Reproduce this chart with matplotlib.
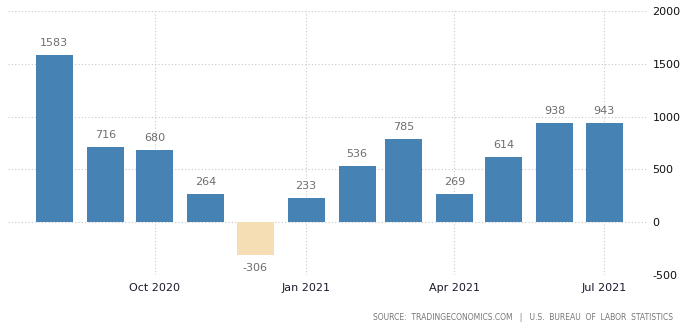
import numpy as np
import pandas as pd
import matplotlib
matplotlib.use("Agg")
import matplotlib.pyplot as plt

plt.rcParams["axes.unicode_minus"] = False

# monthly change, thousands
months = ["2020-08", "2020-09", "2020-10", "2020-11", "2020-12", "2021-01",
          "2021-02", "2021-03", "2021-04", "2021-05", "2021-06", "2021-07"]
values = [1583, 716, 680, 264, -306, 233, 536, 785, 269, 614, 938, 943]
tick_months = ["2020-10", "2021-01", "2021-04", "2021-07"]
tick_labels = ["Oct 2020", "Jan 2021", "Apr 2021", "Jul 2021"]

dates = pd.to_datetime(months)
colors = ["#4682B4" if v >= 0 else "#F5DEB3" for v in values]

fig = plt.figure(figsize=(6.9, 3.3), dpi=100)
ax = fig.add_axes([8 / 690, 1 - 275 / 330, (647 - 8) / 690, (275 - 11) / 330])

ax.bar(dates, values, width=22.5, color=colors, zorder=2)

for d, v in zip(dates, values):
    if v >= 0:
        ax.annotate(str(v), (d, v), xytext=(0, 5), textcoords="offset points",
                    ha="center", va="bottom", fontsize=8, color="#6e6e6e")
    else:
        ax.annotate(str(v), (d, v), xytext=(0, -6), textcoords="offset points",
                    ha="center", va="top", fontsize=8, color="#6e6e6e")

ax.set_xlim(pd.Timestamp("2020-07-04"), pd.Timestamp("2021-07-27"))
ax.set_ylim(-500, 2000)
ax.set_yticks([-500, 0, 500, 1000, 1500, 2000])
ax.set_xticks(pd.to_datetime(tick_months))
ax.set_xticklabels(tick_labels)

ax.yaxis.tick_right()
ax.tick_params(axis="y", length=0, pad=4, labelsize=8, labelcolor="#111111")
ax.tick_params(axis="x", length=0, pad=6, labelsize=8, labelcolor="#1a1a2e")

ax.grid(True, linestyle=(0, (1, 2)), color="#c8c8c8", linewidth=0.8, zorder=0)
for s in ax.spines.values():
    s.set_visible(False)

fig.text(673 / 690, 1 - 317 / 330,
         "SOURCE:  TRADINGECONOMICS.COM   |   U.S.  BUREAU  OF  LABOR  STATISTICS",
         ha="right", va="center", fontsize=5.5, color="#777777")

fig.savefig("out.png", dpi=100)
